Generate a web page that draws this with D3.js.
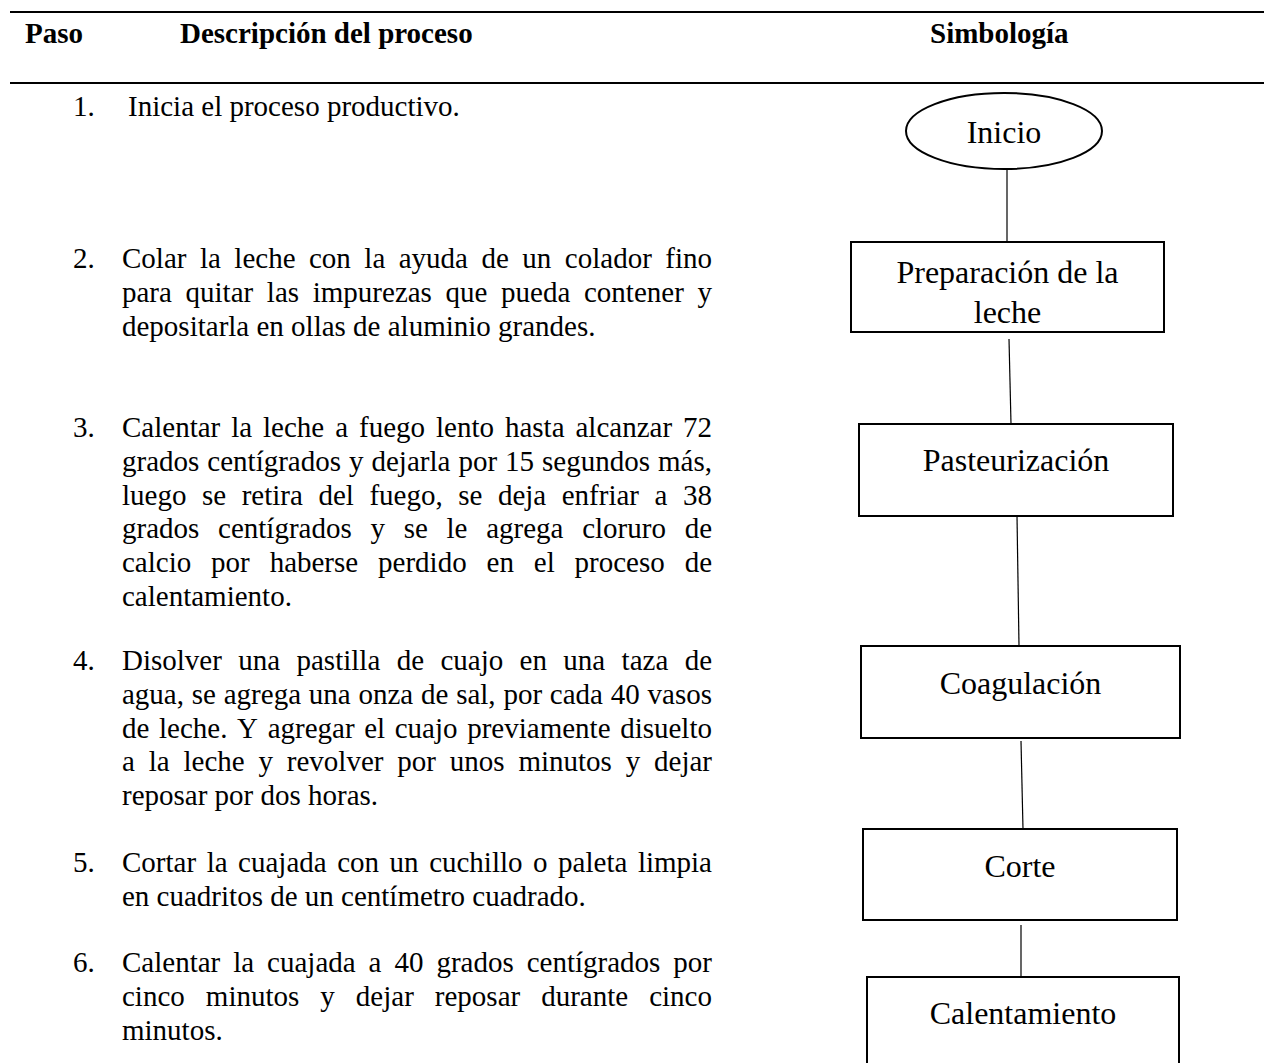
<!DOCTYPE html>
<html>
<head>
<meta charset="utf-8">
<script src="https://cdn.jsdelivr.net/npm/d3@7"></script>
<style>
  html, body { margin: 0; padding: 0; background: #fff; }
  svg { display: block; }
</style>
</head>
<body>
<svg id="chart" width="1264" height="1063"></svg>
<script>
// ---------------- DATA ----------------
const headers = ["Paso", "Descripción del proceso", "Simbología"];

const stepNumbers = ["1.", "2.", "3.", "4.", "5.", "6."];

const stepLines = [
  ["Inicia el proceso productivo."],
  ["Colar la leche con la ayuda de un colador fino",
   "para quitar las impurezas que pueda contener y",
   "depositarla en ollas de aluminio grandes."],
  ["Calentar la leche a fuego lento hasta alcanzar 72",
   "grados centígrados y dejarla por 15 segundos más,",
   "luego se retira del fuego, se deja enfriar a 38",
   "grados centígrados y se le agrega cloruro de",
   "calcio por haberse perdido en el proceso de",
   "calentamiento."],
  ["Disolver una pastilla de cuajo en una taza de",
   "agua, se agrega una onza de sal, por cada 40 vasos",
   "de leche. Y agregar el cuajo previamente disuelto",
   "a la leche y revolver por unos minutos y dejar",
   "reposar por dos horas."],
  ["Cortar la cuajada con un cuchillo o paleta limpia",
   "en cuadritos de un centímetro cuadrado."],
  ["Calentar la cuajada a 40 grados centígrados por",
   "cinco minutos y dejar reposar durante cinco",
   "minutos."]
];

const symbolLabels = [
  ["Inicio"],
  ["Preparación de la", "leche"],
  ["Pasteurización"],
  ["Coagulación"],
  ["Corte"],
  ["Calentamiento"]
];
const symbolShapes = ["ellipse", "rect", "rect", "rect", "rect", "rect"];

// ---------------- LAYOUT ----------------
const W = 1264, H = 1063;
const FONT = "'Liberation Serif', 'Times New Roman', Times, serif";
const ruleY = [12, 83];
const headerX = [25, 180, 930];
const headerY = 33;
const numX = 73;
const textLeft = [128, 122, 122, 122, 122, 122];
const textRight = 712;
const paraY = [106, 258, 427, 660, 862, 962];
const yLine = d3.scaleLinear().domain([0, 1]).range([0, 33.8]);

// symbol boxes: [x0, y0, x1, y1]
const symBoxes = [
  [906, 93, 1102, 169],
  [851, 242, 1164, 332],
  [859, 424, 1173, 516],
  [861, 646, 1180, 738],
  [863, 829, 1177, 920],
  [867, 977, 1179, 1075]
];
const symTextY = [132, 272, 460, 683, 866, 1013];
const symLineH = 40;
const connectors = [
  [1007, 169, 1007, 242],
  [1009, 339, 1011, 424],
  [1017, 516, 1019, 646],
  [1021, 741, 1023, 829],
  [1021, 925, 1021, 977]
];

// ---------------- DRAW ----------------
const svg = d3.select("#chart");
svg.append("rect").attr("width", W).attr("height", H).attr("fill", "#fff");

// header rules
svg.selectAll("line.rule").data(ruleY).join("line")
  .attr("class", "rule")
  .attr("x1", 10).attr("x2", W)
  .attr("y1", d => d).attr("y2", d => d)
  .attr("stroke", "#000").attr("stroke-width", 2);

// header texts
svg.selectAll("text.header").data(headers).join("text")
  .attr("class", "header")
  .attr("x", (d, i) => headerX[i])
  .attr("y", headerY)
  .attr("dominant-baseline", "central")
  .attr("font-family", FONT)
  .attr("font-weight", "bold")
  .attr("font-size", 29)
  .attr("fill", "#000")
  .text(d => d);

// measuring helper
const meas = svg.append("text")
  .attr("font-family", FONT).attr("font-size", 29)
  .attr("visibility", "hidden");
function wordWidth(w) {
  meas.text(w);
  return meas.node().getComputedTextLength();
}

const body = svg.append("g").attr("class", "steps");
stepLines.forEach((lines, p) => {
  const g = body.append("g");
  g.append("text")
    .attr("x", numX)
    .attr("y", paraY[p])
    .attr("dominant-baseline", "central")
    .attr("font-family", FONT).attr("font-size", 29).attr("fill", "#000")
    .text(stepNumbers[p]);
  lines.forEach((line, li) => {
    const y = paraY[p] + yLine(li);
    const isLast = li === lines.length - 1;
    if (isLast) {
      g.append("text")
        .attr("x", textLeft[p]).attr("y", y)
        .attr("dominant-baseline", "central")
        .attr("font-family", FONT).attr("font-size", 29).attr("fill", "#000")
        .text(line);
    } else {
      const words = line.split(" ");
      const widths = words.map(wordWidth);
      const total = d3.sum(widths);
      const gap = (textRight - textLeft[p] - total) / (words.length - 1);
      let x = textLeft[p];
      const pos = widths.map(w => { const px = x; x += w + gap; return px; });
      g.selectAll(null).data(words).join("text")
        .attr("x", (d, i) => pos[i]).attr("y", y)
        .attr("dominant-baseline", "central")
        .attr("font-family", FONT).attr("font-size", 29).attr("fill", "#000")
        .text(d => d);
    }
  });
});
meas.remove();

// connectors
svg.selectAll("line.conn").data(connectors).join("line")
  .attr("class", "conn")
  .attr("x1", d => d[0]).attr("y1", d => d[1])
  .attr("x2", d => d[2]).attr("y2", d => d[3])
  .attr("stroke", "#000").attr("stroke-width", 1.2);

// symbols
const sym = svg.selectAll("g.sym").data(symbolLabels).join("g").attr("class", "sym");
sym.each(function(labels, i) {
  const g = d3.select(this);
  const b = symBoxes[i];
  if (symbolShapes[i] === "ellipse") {
    g.append("ellipse")
      .attr("cx", (b[0] + b[2]) / 2).attr("cy", (b[1] + b[3]) / 2)
      .attr("rx", (b[2] - b[0]) / 2).attr("ry", (b[3] - b[1]) / 2)
      .attr("fill", "#fff").attr("stroke", "#000").attr("stroke-width", 2);
  } else {
    g.append("rect")
      .attr("x", b[0]).attr("y", b[1])
      .attr("width", b[2] - b[0]).attr("height", b[3] - b[1])
      .attr("fill", "#fff").attr("stroke", "#000").attr("stroke-width", 2);
  }
  g.selectAll("text").data(labels).join("text")
    .attr("x", (b[0] + b[2]) / 2)
    .attr("y", (d, j) => symTextY[i] + j * symLineH)
    .attr("text-anchor", "middle")
    .attr("dominant-baseline", "central")
    .attr("font-family", FONT).attr("font-size", 32).attr("fill", "#000")
    .text(d => d);
});
</script>
</body>
</html>
